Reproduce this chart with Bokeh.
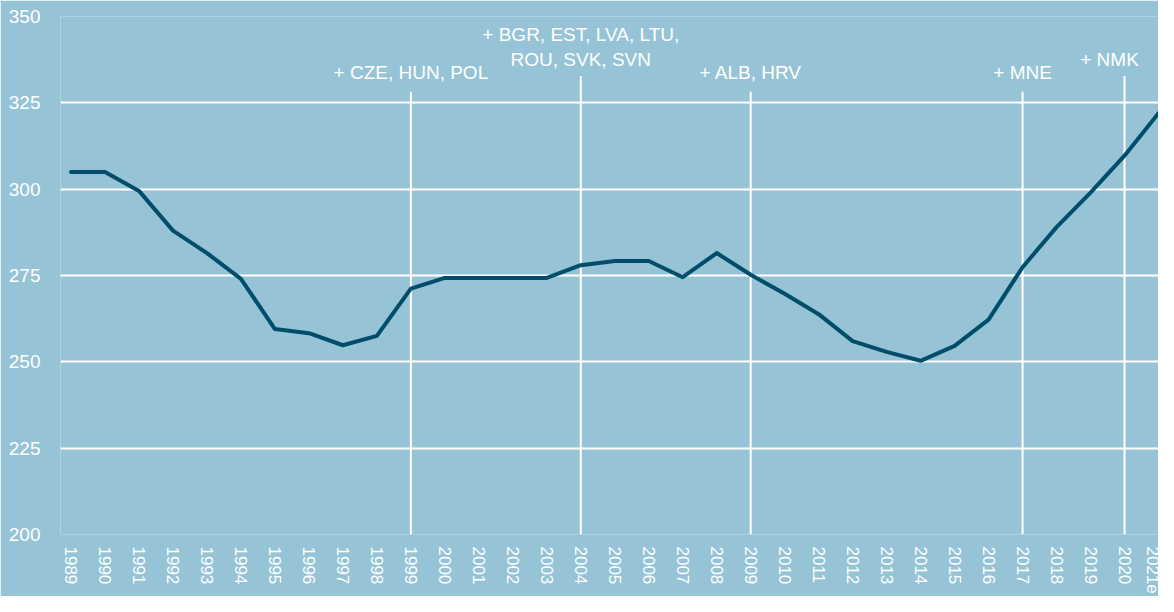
from bokeh.plotting import figure
from bokeh.models import FixedTicker, Range1d, ColumnDataSource
from bokeh.embed import file_html
from bokeh.resources import INLINE
from bokeh.core.properties import value

# ---- data ----
years = list(range(1989, 2022))
year_labels = [str(y) for y in years[:-1]] + ["2021e"]
values = [305, 305, 299.5, 288, 281.5, 274, 259.5, 258.3, 254.8, 257.5,
          271.2, 274.3, 274.3, 274.3, 274.3, 278, 279.2, 279.2, 274.5, 281.5,
          275.2, 269.7, 263.8, 256, 252.9, 250.3, 254.6, 262.2, 277.4, 289,
          299, 309.7, 322]
y_ticks = [200, 225, 250, 275, 300, 325, 350]

ann_years = [1999, 2004, 2009, 2017, 2020]
ann_texts = ["+ CZE, HUN, POL", "+ BGR, EST, LVA, LTU,\nROU, SVK, SVN",
             "+ ALB, HRV", "+ MNE", "+ NMK"]

# ---- styles ----
BG = "#96C4D6"
LINE = "#004E6B"
FONT = "Liberation Sans"

p = figure(width=1158, height=596,
           x_range=Range1d(1988.69, 2021.0), y_range=Range1d(200, 350),
           output_backend="svg", toolbar_location=None,
           min_border_left=60, min_border_right=0,
           min_border_top=16, min_border_bottom=62,
           background_fill_color=BG, border_fill_color=BG,
           outline_line_color=None)

# axes
p.xaxis.ticker = FixedTicker(ticks=years)
p.xaxis.major_label_overrides = {y: l for y, l in zip(years, year_labels)}
p.xaxis.major_label_orientation = "vertical"
p.xaxis.major_label_text_font_size = "17px"
p.xaxis.major_label_standoff = 12
p.yaxis.ticker = FixedTicker(ticks=y_ticks)
p.yaxis.major_label_text_font_size = "19px"
p.yaxis.major_label_standoff = 20
for ax in (p.xaxis, p.yaxis):
    ax.axis_line_color = None
    ax.major_tick_line_color = None
    ax.minor_tick_line_color = None
    ax.major_tick_in = 0
    ax.major_tick_out = 0
    ax.major_label_text_color = "white"
    ax.major_label_text_font = FONT

p.xgrid.grid_line_color = None
p.ygrid.grid_line_color = "white"
p.ygrid.grid_line_width = 2

# annotation markers
levels = [0, 1, 0, 0, 1]               # raised label rows
line_top = [328.2 + 4.6 * l for l in levels]
text_bottom = [330.6 + 4.0 * l for l in levels]
x_off = [0, 0, 0, 0, -15]
src = ColumnDataSource(dict(x=ann_years, top=line_top, ty=text_bottom,
                            text=ann_texts, xo=x_off, y0=[200] * len(ann_years)))
p.segment(x0="x", y0="y0", x1="x", y1="top", source=src,
          line_color="white", line_width=2)
p.text(x="x", y="ty", text="text", source=src, x_offset="xo",
       text_align="center", text_baseline="bottom",
       text_color="white", text_font=value(FONT), text_font_size="19px",
       text_line_height=1.16)

# main series
p.line(years, values, line_color=LINE, line_width=4,
       line_join="round", line_cap="round")

open("out.html", "w").write(file_html(p, INLINE))
